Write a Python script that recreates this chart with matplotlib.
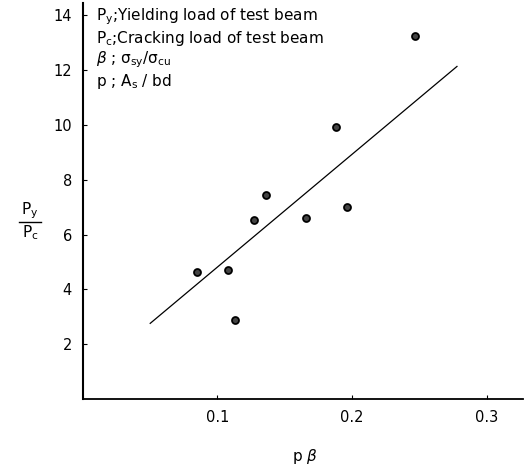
import matplotlib
matplotlib.use('Agg')
from matplotlib import pyplot as plt

plt.rcParams['mathtext.default'] = 'regular'

# measured points (p*beta, Py/Pc)
p_beta = [0.085, 0.108, 0.113, 0.127, 0.136, 0.166, 0.188, 0.196, 0.247]
py_pc = [4.63, 4.70, 2.90, 6.54, 7.43, 6.62, 9.93, 7.02, 13.24]

# fitted line ends
line_x = [0.050, 0.278]
line_y = [2.76, 12.13]

x_ticks = [0.1, 0.2, 0.3]
y_ticks = [2, 4, 6, 8, 10, 12, 14]

fig = plt.figure(figsize=(5.25, 4.7), dpi=100)
ax = fig.add_axes([0.158, 0.151, 0.838, 0.843])

ax.plot(line_x, line_y, color='black', lw=0.9)
ax.plot(p_beta, py_pc, 'o', ms=5, mfc='#444444', mec='black', mew=1.3)

ax.set_xlim(0, 0.327)
ax.set_ylim(0, 14.45)
ax.set_xticks(x_ticks)
ax.set_xticklabels(['0.1', '0.2', '0.3'])
ax.set_yticks(y_ticks)
ax.tick_params(direction='in', length=3, labelsize=10.5, pad=8)
ax.spines['top'].set_visible(False)
ax.spines['right'].set_visible(False)
ax.spines['left'].set_linewidth(1.5)
ax.spines['bottom'].set_linewidth(1.3)

notes = ['P$_y$;Yielding load of test beam',
         'P$_c$;Cracking load of test beam',
         r'$\mathit{\beta}$ ; $\sigma_{sy}/\sigma_{cu}$',
         'p ; A$_s$ / bd']
for i, s in enumerate(notes):
    fig.text(96 / 525, 1 - (17 + i * 21.5) / 470, s, fontsize=11, va='center')

fig.text(305 / 525, 1 - 457 / 470, r'p $\mathit{\beta}$', fontsize=11, ha='center', va='center')
fig.text(30 / 525, 1 - 211 / 470, 'P$_y$', fontsize=11, ha='center', va='center')
fig.text(30 / 525, 1 - 233 / 470, 'P$_c$', fontsize=11, ha='center', va='center')
fig.add_artist(plt.Line2D([19 / 525, 41 / 525], [1 - 222 / 470, 1 - 222 / 470], color='black', lw=1))

fig.savefig('out.png', dpi=100)
